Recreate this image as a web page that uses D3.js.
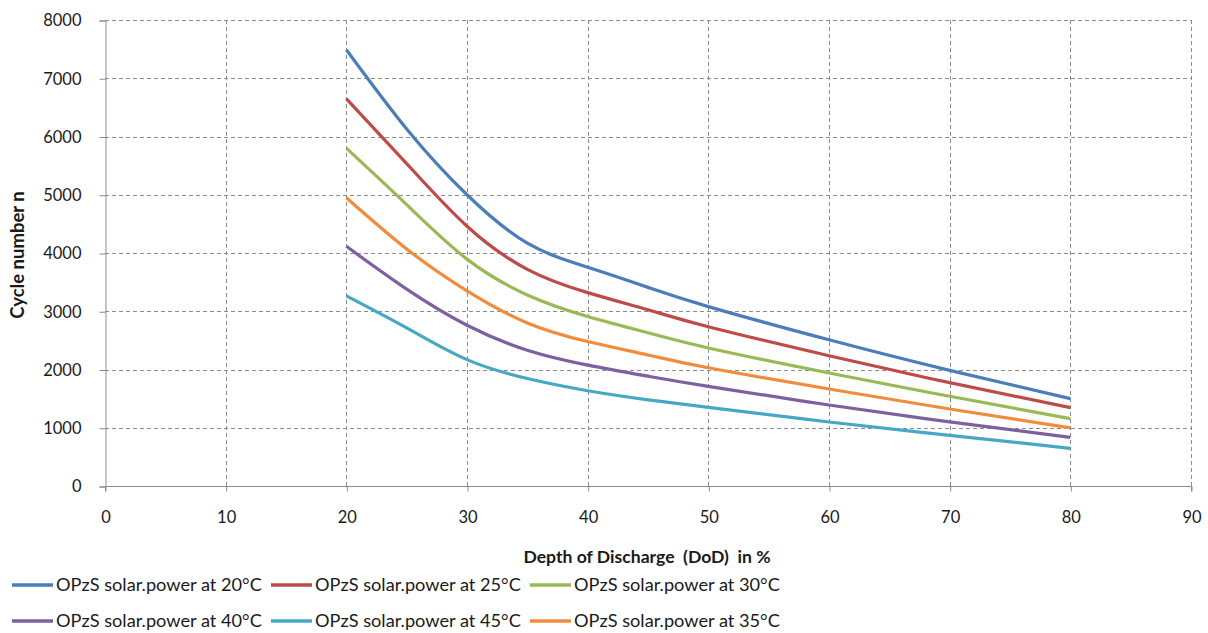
<!DOCTYPE html>
<html>
<head>
<meta charset="utf-8">
<script src="https://cdn.jsdelivr.net/npm/d3@7"></script>
<style>
  html, body { margin: 0; padding: 0; background: #fff; }
  svg { display: block; }
  text { font-family: Lato, "Liberation Sans", Arial, sans-serif; fill: #1a1a1a; }
</style>
</head>
<body>
<svg id="chart" width="1208" height="633"></svg>
<script>
// Depth of discharge (%) at which cycle counts are given
const dod = [20, 25, 30, 35, 40, 45, 50, 60, 70, 80];

// Cycle numbers per operating temperature
const cycles20 = [7490, 6130, 5000, 4170, 3755, 3410, 3080, 2510, 1985, 1500];
const cycles25 = [6650, 5535, 4460, 3720, 3320, 3025, 2735, 2237, 1774, 1345];
const cycles30 = [5800, 4830, 3895, 3280, 2910, 2630, 2370, 1940, 1540, 1156];
const cycles35 = [4950, 4070, 3350, 2800, 2480, 2250, 2030, 1665, 1322, 997];
const cycles40 = [4115, 3380, 2760, 2330, 2075, 1885, 1710, 1391, 1100, 835];
const cycles45 = [3265, 2715, 2170, 1845, 1636, 1480, 1350, 1099, 870, 647];

const seriesNames = [
  "OPzS solar.power at 20°C",
  "OPzS solar.power at 25°C",
  "OPzS solar.power at 30°C",
  "OPzS solar.power at 40°C",
  "OPzS solar.power at 45°C",
  "OPzS solar.power at 35°C"
];
const seriesValues = [cycles20, cycles25, cycles30, cycles40, cycles45, cycles35];
const seriesColors = ["#4A7DBA", "#BE4B48", "#98B954", "#7D60A0", "#46A8C4", "#F08C3C"];

const xTicks = [0, 10, 20, 30, 40, 50, 60, 70, 80, 90];
const yTicks = [0, 1000, 2000, 3000, 4000, 5000, 6000, 7000, 8000];

const xTitle = "Depth of Discharge  (DoD)  in %";
const yTitle = "Cycle number n";

const svg = d3.select("#chart");

const plot = { left: 105, right: 1191, top: 20, bottom: 486 };

const x = d3.scaleLinear().domain([0, 90]).range([plot.left, plot.right]);
const y = d3.scaleLinear().domain([0, 8000]).range([plot.bottom, plot.top]);

// dashed grid
const grid = svg.append("g");
grid.selectAll("line.h").data(yTicks.filter(d => d > 0)).enter().append("line")
  .attr("x1", plot.left).attr("x2", plot.right)
  .attr("y1", d => Math.round(y(d)) + 0.5).attr("y2", d => Math.round(y(d)) + 0.5)
  .attr("stroke", "#8c8c8c").attr("stroke-width", 1).attr("stroke-dasharray", "4,3");
grid.selectAll("line.v").data(xTicks.filter(d => d > 0)).enter().append("line")
  .attr("x1", d => Math.round(x(d)) + 0.5).attr("x2", d => Math.round(x(d)) + 0.5)
  .attr("y1", plot.top).attr("y2", plot.bottom)
  .attr("stroke", "#8c8c8c").attr("stroke-width", 1).attr("stroke-dasharray", "4,3");

// axes
const xAxis = d3.axisBottom(x).tickValues(xTicks).tickSize(5).tickPadding(20).tickFormat(d3.format("d"));
const yAxis = d3.axisLeft(y).tickValues(yTicks).tickSize(6).tickPadding(18).tickFormat(d3.format("d"));

const gx = svg.append("g").attr("transform", `translate(0.5,${plot.bottom + 0.5})`).call(xAxis);
const gy = svg.append("g").attr("transform", `translate(${plot.left + 0.5},0.5)`).call(yAxis);
[gx, gy].forEach(g => {
  g.select(".domain").attr("stroke", "#8c8c8c").attr("stroke-width", 1);
  g.selectAll(".tick line").attr("stroke", "#8c8c8c");
  g.selectAll(".tick text").attr("font-size", 16.5).attr("fill", "#1a1a1a")
    .style("font-family", 'Lato, "Liberation Sans", Arial, sans-serif');
});
gx.select(".domain").attr("d", `M${plot.left},5V0H${plot.right}V5`);

// smoothed curves
const line = d3.line()
  .x(d => x(d[0]))
  .y(d => y(d[1]))
  .curve(d3.curveNatural);

const order = [0, 1, 2, 5, 3, 4];
svg.append("g").selectAll("path").data(order).enter().append("path")
  .attr("d", i => line(dod.map((v, k) => [v, seriesValues[i][k]])))
  .attr("fill", "none")
  .attr("stroke", i => seriesColors[i])
  .attr("stroke-width", 3.2)
  .attr("stroke-linecap", "butt");

// axis titles
svg.append("text")
  .attr("x", 647).attr("y", 563)
  .attr("text-anchor", "middle")
  .attr("font-size", 17.6).attr("font-weight", "bold")
  .attr("xml:space", "preserve")
  .style("white-space", "pre")
  .text(xTitle);

svg.append("text")
  .attr("transform", "translate(24,255) rotate(-90)")
  .attr("text-anchor", "middle")
  .attr("font-size", 18.5).attr("font-weight", "bold")
  .text(yTitle);

// legend, two rows of three
const legendCols = [12, 271, 530];
const legendRows = [585, 621];
const legend = svg.append("g");
seriesNames.forEach((name, i) => {
  const cx = legendCols[i % 3];
  const cy = legendRows[Math.floor(i / 3)];
  legend.append("line")
    .attr("x1", cx).attr("x2", cx + 41)
    .attr("y1", cy).attr("y2", cy)
    .attr("stroke", seriesColors[i]).attr("stroke-width", 3.5);
  legend.append("text")
    .attr("x", cx + 44).attr("y", cy + 6)
    .attr("font-size", 18.2)
    .text(name);
});
</script>
</body>
</html>
